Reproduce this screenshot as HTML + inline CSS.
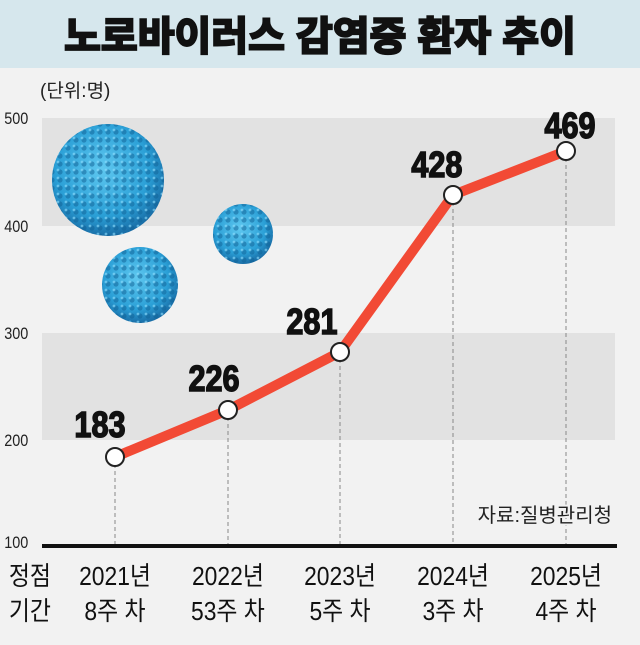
<!DOCTYPE html>
<html><head><meta charset="utf-8"><style>
body{margin:0;width:640px;height:640px;overflow:hidden;background:#f2f2f2;font-family:"Liberation Sans","Noto Sans CJK KR",sans-serif}
</style></head><body>
<svg width="640" height="640" xmlns="http://www.w3.org/2000/svg" font-family="Liberation Sans, Noto Sans CJK KR, sans-serif">
<defs>
<radialGradient id="v" cx="45%" cy="40%" r="60%"><stop offset="0" stop-color="#5fc8f0"/><stop offset="0.7" stop-color="#2a9fd6"/><stop offset="1" stop-color="#1a6fa8"/></radialGradient>
<pattern id="bump" width="8" height="8" patternUnits="userSpaceOnUse"><circle cx="4" cy="4" r="2.6" fill="#0f5f94" opacity="0.5"/><circle cx="2" cy="2" r="1.4" fill="#8fe0ff" opacity="0.6"/></pattern>
</defs>
<rect x="0" y="0" width="640" height="68" fill="#d6e7ed"/>
<text x="320" y="50" text-anchor="middle" font-size="40" font-weight="bold" fill="#111" stroke="#111" stroke-width="2.2" paint-order="stroke">노로바이러스 감염증 환자 추이</text>
<rect x="42" y="118" width="573" height="108" fill="#e2e2e2"/>
<rect x="42" y="333" width="573" height="107" fill="#e2e2e2"/>
<text x="40" y="97" font-size="19" fill="#222">(단위:명)</text>
<g font-size="17" fill="#222" transform="scale(0.85,1)">
<text x="5" y="124">500</text><text x="5" y="232">400</text><text x="5" y="339">300</text><text x="5" y="446">200</text><text x="5" y="548">100</text>
</g>
<circle cx="108" cy="180" r="56" fill="url(#v)"/><circle cx="108" cy="180" r="56" fill="url(#bump)"/>
<circle cx="140" cy="285" r="38" fill="url(#v)"/><circle cx="140" cy="285" r="38" fill="url(#bump)"/>
<circle cx="243" cy="234" r="30" fill="url(#v)"/><circle cx="243" cy="234" r="30" fill="url(#bump)"/>
<g stroke="#888" stroke-width="1" stroke-dasharray="4,3">
<line x1="115" y1="457" x2="115" y2="546"/><line x1="228" y1="410" x2="228" y2="546"/><line x1="340" y1="352" x2="340" y2="546"/><line x1="453" y1="195" x2="453" y2="546"/><line x1="566" y1="151" x2="566" y2="546"/>
</g>
<text x="612" y="522" text-anchor="end" font-size="20" fill="#222" stroke="#f2f2f2" stroke-width="4" paint-order="stroke">자료:질병관리청</text>
<line x1="42" y1="546" x2="617" y2="546" stroke="#111" stroke-width="4"/>
<polyline points="115,457 228,410 340,352 453,195 566,151" fill="none" stroke="#f24a35" stroke-width="10" stroke-linejoin="round"/>
<g fill="#fff" stroke="#222" stroke-width="2">
<circle cx="115" cy="457" r="9"/><circle cx="228" cy="410" r="9"/><circle cx="340" cy="352" r="9"/><circle cx="453" cy="195" r="9"/><circle cx="566" cy="151" r="9"/>
</g>
<g font-size="36" font-weight="bold" fill="#111" text-anchor="middle" stroke="#111" stroke-width="1.5" transform="scale(0.85,1)">
<text x="117.6" y="437">183</text><text x="251.8" y="391">226</text><text x="367" y="334">281</text><text x="514" y="177">428</text><text x="670.6" y="138">469</text>
</g>
<g font-size="26" fill="#111" text-anchor="middle" transform="scale(0.88,1)">
<text x="34" y="585">정점</text><text x="34" y="620">기간</text>
<text x="130.7" y="585">2021년</text><text x="130.7" y="620">8주 차</text>
<text x="259" y="585">2022년</text><text x="259" y="620">53주 차</text>
<text x="386.4" y="585">2023년</text><text x="386.4" y="620">5주 차</text>
<text x="514.8" y="585">2024년</text><text x="514.8" y="620">3주 차</text>
<text x="643.2" y="585">2025년</text><text x="643.2" y="620">4주 차</text>
</g>
</svg>
</body></html>
